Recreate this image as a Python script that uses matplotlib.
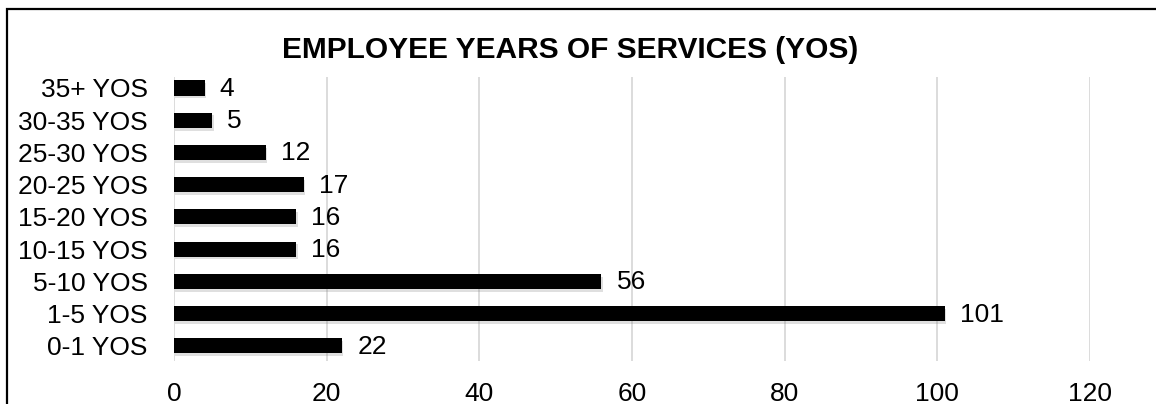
import matplotlib
matplotlib.use("Agg")
import matplotlib.pyplot as plt
import matplotlib.patheffects as pe
from matplotlib.patches import Rectangle

categories = ["0-1 YOS", "1-5 YOS", "5-10 YOS", "10-15 YOS", "15-20 YOS",
              "20-25 YOS", "25-30 YOS", "30-35 YOS", "35+ YOS"]
counts = [22, 101, 56, 16, 16, 17, 12, 5, 4]
xticks = [0, 20, 40, 60, 80, 100, 120]
title = "EMPLOYEE YEARS OF SERVICES (YOS)"

plt.rcParams['font.family'] = ['Liberation Sans', 'DejaVu Sans']

fig = plt.figure(figsize=(11.56, 4.04), dpi=100)
ax = fig.add_axes([174/1156, 1 - 361/404, (1090 - 174)/1156, (361 - 77)/404])

shadow = [pe.SimplePatchShadow(offset=(1, -2), shadow_rgbFace='gray', alpha=0.25), pe.Normal()]
bars = ax.barh(range(len(categories)), counts, height=0.47, color='black', zorder=3)
for b in bars:
    b.set_path_effects(shadow)

for i, v in enumerate(counts):
    ax.text(v + 2.0, i - 0.03, str(v), ha='left', va='center', fontsize=19, color='black')

ax.set_xlim(0, 120)
ax.set_ylim(-0.47, 8.34)
ax.set_xticks(xticks)
ax.set_yticks(range(len(categories)))
ax.set_yticklabels(categories)
ax.tick_params(axis='both', length=0, labelsize=19, colors='black')
ax.tick_params(axis='x', pad=15)
ax.tick_params(axis='y', pad=19)
ax.grid(axis='x', color='#d9d9d9', linewidth=1.3, zorder=0)
for s in ax.spines.values():
    s.set_visible(False)

fig.text(570/1156, 1 - 50/404, title, ha='center', va='center',
         fontsize=21.5, fontweight='bold')

# outer chart frame (runs off the right and bottom edges)
fig.patches.append(Rectangle((7/1156, -0.2), 1.2, 1.2 - 9/404,
                             transform=fig.transFigure, fill=False,
                             edgecolor='black', linewidth=1.6))

fig.savefig("out.png", dpi=100)
